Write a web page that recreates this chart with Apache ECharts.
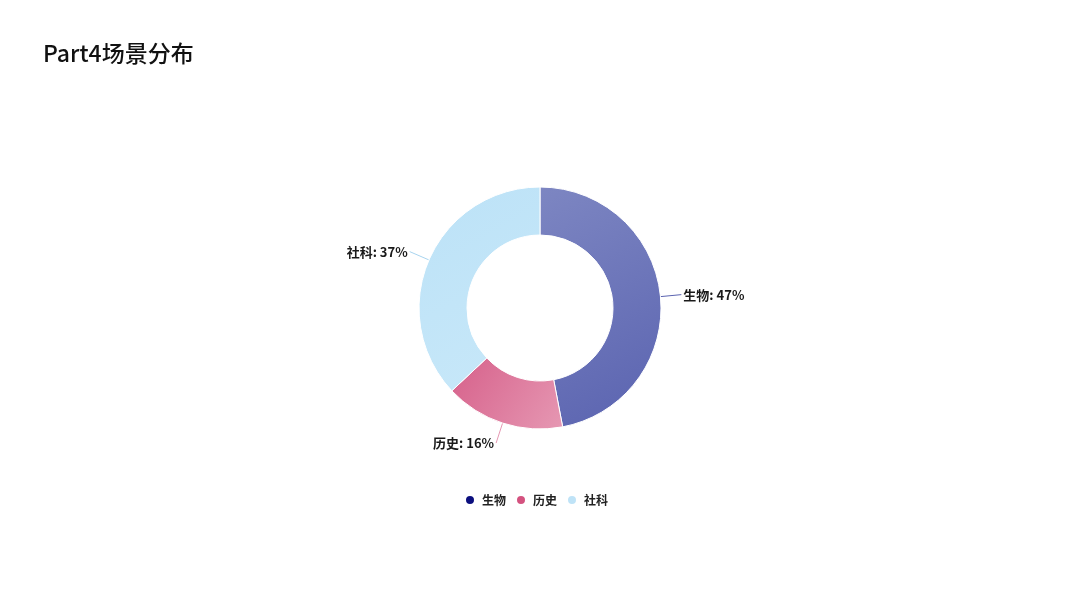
<!DOCTYPE html>
<html><head><meta charset="utf-8">
<script src="https://cdn.jsdelivr.net/npm/echarts@6/dist/echarts.min.js"></script>
<style>html,body{margin:0;padding:0;background:#fff}#c{width:1080px;height:609px}</style>
</head><body><div id="c"></div>
<script>
const categories = ['生物', '历史', '社科'];
const values = [47, 16, 37];
const legendColors = ['#0b0f7e', '#d4527f', '#bfe3f7'];
const gradStops = [
  ['#7d86c2', '#5a63b0'],
  ['#d6608a', '#e698b3'],
  ['#bce2f7', '#c8e8f9']
];
const chart = echarts.init(document.getElementById('c'));
chart.setOption({
  animation: false,
  title: { text: 'Part4场景分布', left: 38, top: 37, textStyle: { fontSize: 23, fontWeight: 500, color: '#111', fontFamily: 'Noto Sans CJK SC' } },
  legend: {
    bottom: 98, left: 459, icon: 'circle', itemWidth: 14, itemHeight: 10, itemGap: 9,
    textStyle: { fontSize: 12, fontWeight: 'bold', color: '#222', fontFamily: 'Noto Sans CJK SC' },
    data: categories.map((c, i) => ({ name: c, itemStyle: { color: legendColors[i] } }))
  },
  series: [{
    type: 'pie', center: [540, 308], radius: [73, 121], startAngle: 90,
    itemStyle: { borderColor: '#fff', borderWidth: 1 },
    label: { formatter: '{b}: {d}%', fontSize: 13, fontWeight: 'bold', color: '#1a1a1a', fontFamily: 'Noto Sans CJK SC', distanceToLabelLine: 2 },
    labelLine: { length: 21, length2: 0 },
    data: categories.map((c, i) => ({
      name: c, value: values[i],
      itemStyle: { color: new echarts.graphic.LinearGradient(0, 0, 1, 1, [{ offset: 0, color: gradStops[i][0] }, { offset: 1, color: gradStops[i][1] }]) },
      labelLine: { lineStyle: { color: i === 2 ? '#a8d4ef' : gradStops[i][1] } }
    }))
  }]
});
</script></body></html>
